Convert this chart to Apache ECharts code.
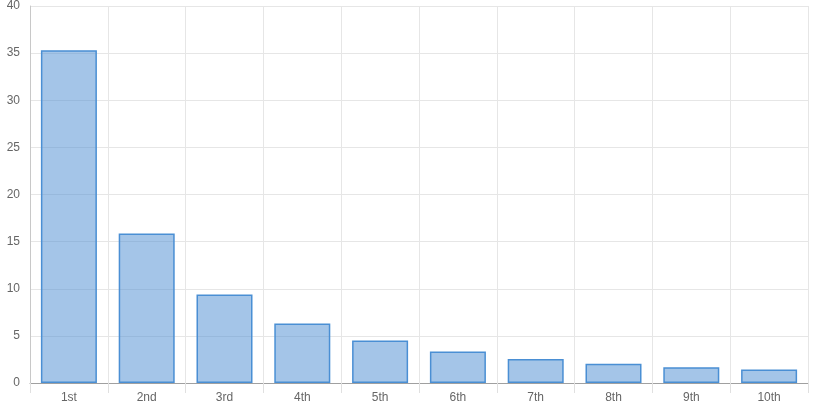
<!DOCTYPE html>
<html><head><meta charset="utf-8">
<script src="https://cdn.jsdelivr.net/npm/echarts@6/dist/echarts.min.js"></script>
<style>html,body{margin:0;padding:0;background:#fff}#c{width:823px;height:411px}</style>
</head><body><div id="c"></div>
<script>
const categories = ['1st','2nd','3rd','4th','5th','6th','7th','8th','9th','10th'];
const values = [35.3, 15.85, 9.38, 6.32, 4.52, 3.35, 2.55, 2.05, 1.66, 1.44];

const chart = echarts.init(document.getElementById('c'));
chart.setOption({
  animation: false,
  grid: {left: 30, right: 15, top: 6, bottom: 28},
  xAxis: {
    type: 'category', data: categories, boundaryGap: true,
    axisLine: {lineStyle: {color: '#a0a0a0', width: 1}},
    axisTick: {show: true, length: 10, lineStyle: {color: '#e0e0e0'}},
    splitLine: {show: true, lineStyle: {color: '#e6e6e6'}},
    axisLabel: {color: '#666', fontSize: 12, fontFamily: 'Liberation Sans, Arial', margin: 9}
  },
  yAxis: {
    type: 'value', min: 0, max: 40, interval: 5,
    axisLine: {show: true, lineStyle: {color: '#c8c8c8'}},
    axisTick: {show: false},
    splitLine: {show: true, lineStyle: {color: '#e6e6e6'}},
    axisLabel: {color: '#666', fontSize: 12, fontFamily: 'Liberation Sans, Arial', margin: 10}
  },
  series: [{
    type: 'bar', data: values, barCategoryGap: '28%',
    itemStyle: {color: 'rgba(74,140,209,0.5)', borderColor: '#4a8fd4', borderWidth: 1.5}
  }]
});
</script></body></html>
